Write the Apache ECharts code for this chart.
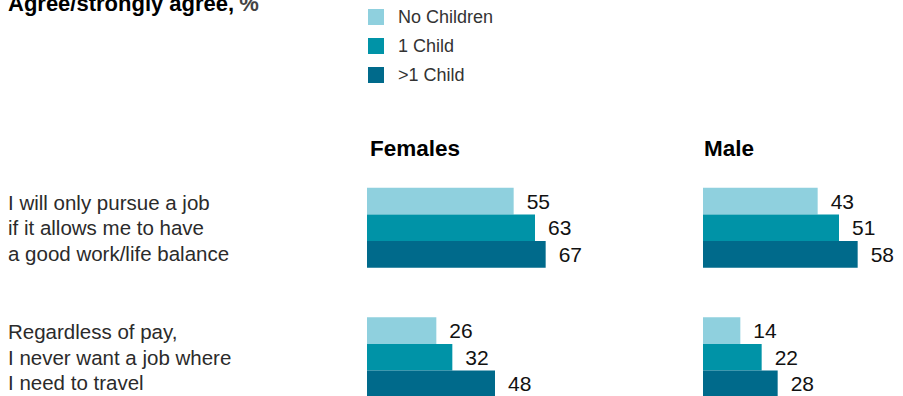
<!DOCTYPE html>
<html>
<head>
<meta charset="utf-8">
<script src="https://cdn.jsdelivr.net/npm/echarts@6/dist/echarts.min.js"></script>
<style>
  html, body { margin: 0; padding: 0; background: #fff; }
  #chart { width: 903px; height: 396px; }
</style>
</head>
<body>
<div id="chart"></div>
<script>
// categories (statements)
var categories = [
    'I will only pursue a job\nif it allows me to have\na good work/life balance',
    'Regardless of pay,\nI never want a job where\nI need to travel'
];
var groups = ['No Children', '1 Child', '>1 Child'];
var colors = ['#8fd0de', '#0093a7', '#006a8b'];

// Females, %
var femaleNoChildren = [55, 26];
var femaleOneChild = [63, 32];
var femaleMoreChildren = [67, 48];

// Male, %
var maleNoChildren = [43, 14];
var maleOneChild = [51, 22];
var maleMoreChildren = [58, 28];

var font = "'Liberation Sans', Arial, sans-serif";

function barSeries(name, data, idx, color) {
    return {
        name: name,
        type: 'bar',
        xAxisIndex: idx,
        yAxisIndex: idx,
        data: data,
        barWidth: 26.7,
        barGap: '0%',
        itemStyle: { color: color },
        label: {
            show: true,
            position: 'right',
            distance: 13,
            fontFamily: font,
            fontSize: 21,
            color: '#111'
        },
        emphasis: { disabled: true }
    };
}

var chart = echarts.init(document.getElementById('chart'), null, { renderer: 'svg' });
chart.setOption({
    animation: false,
    textStyle: { fontFamily: font },
    title: [{
        text: '{b|Agree/strongly agree,} {r|%}',
        left: 8,
        top: -8,
        padding: 0,
        textStyle: {
            rich: {
                b: { fontFamily: font, fontSize: 22, fontWeight: 'bold', color: '#000' },
                r: { fontFamily: font, fontSize: 22, color: '#444' }
            }
        }
    }, {
        text: 'Females',
        left: 370,
        top: 137,
        padding: 0,
        textStyle: { fontFamily: font, fontSize: 22.5, fontWeight: 'bold', color: '#000' }
    }, {
        text: 'Male',
        left: 704,
        top: 137,
        padding: 0,
        textStyle: { fontFamily: font, fontSize: 22.5, fontWeight: 'bold', color: '#000' }
    }],
    legend: {
        orient: 'vertical',
        left: 368,
        top: 8,
        padding: 0,
        itemWidth: 16,
        itemHeight: 16,
        itemGap: 11,
        icon: 'rect',
        data: groups,
        selectedMode: false,
        textStyle: { fontFamily: font, fontSize: 18, color: '#333', padding: [0, 0, 0, 9] }
    },
    grid: [
        { left: 367, top: 163, width: 200, height: 259, outerBoundsMode: 'none' },
        { left: 703, top: 163, width: 200, height: 259, outerBoundsMode: 'none' }
    ],
    xAxis: [
        { gridIndex: 0, type: 'value', min: 0, max: 75, show: false },
        { gridIndex: 1, type: 'value', min: 0, max: 75, show: false }
    ],
    yAxis: [{
        gridIndex: 0,
        type: 'category',
        inverse: true,
        data: categories,
        axisLine: { show: false },
        axisTick: { show: false },
        axisLabel: {
            align: 'left',
            margin: 359,
            fontFamily: font,
            fontSize: 20.5,
            lineHeight: 25.6,
            padding: [0, 0, 3, 0],
            color: '#2b2b2b'
        }
    }, {
        gridIndex: 1,
        type: 'category',
        inverse: true,
        data: categories,
        axisLine: { show: false },
        axisTick: { show: false },
        axisLabel: { show: false }
    }],
    series: [
        barSeries(groups[0], femaleNoChildren, 0, colors[0]),
        barSeries(groups[1], femaleOneChild, 0, colors[1]),
        barSeries(groups[2], femaleMoreChildren, 0, colors[2]),
        barSeries(groups[0], maleNoChildren, 1, colors[0]),
        barSeries(groups[1], maleOneChild, 1, colors[1]),
        barSeries(groups[2], maleMoreChildren, 1, colors[2])
    ]
});
</script>
</body>
</html>
